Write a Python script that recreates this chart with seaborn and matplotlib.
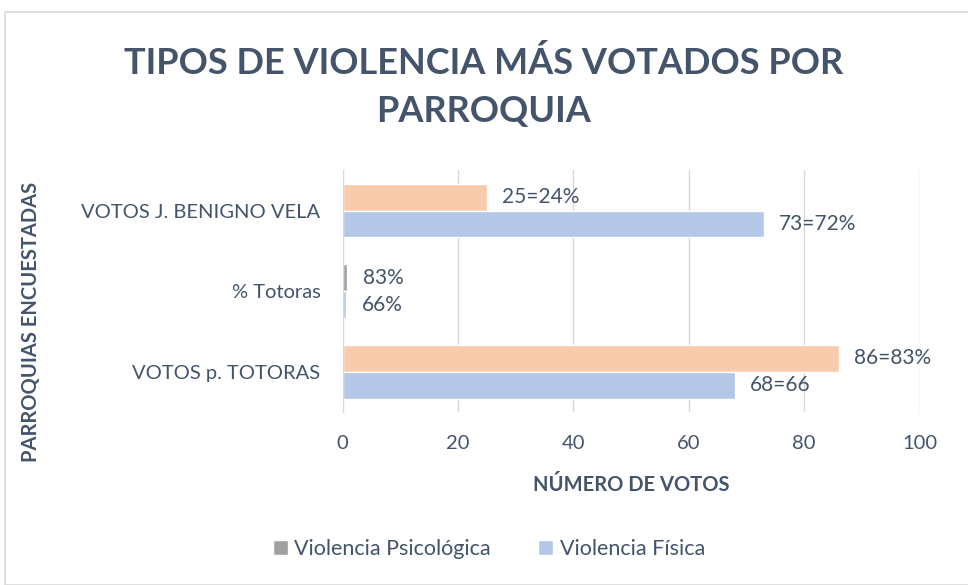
import matplotlib
matplotlib.use('Agg')
import matplotlib.pyplot as plt
import seaborn as sns
import pandas as pd
from matplotlib.patches import Patch, Rectangle

# 데이터
parroquias = ['VOTOS J. BENIGNO VELA', '% Totoras', 'VOTOS p. TOTORAS']
psicologica = [25, 0.83, 86]
fisica = [73, 0.66, 68]
etiquetas_psic = ['25=24%', '83%', '86=83%']
etiquetas_fis = ['73=72%', '66%', '68=66']
series = ['Violencia Psicológica', 'Violencia Física']

df = pd.DataFrame({
    'parroquia': parroquias * 2,
    'votos': psicologica + fisica,
    'tipo': [series[0]] * 3 + [series[1]] * 3,
})

texto = '#44546A'
naranja = '#F8CBAD'
azul = '#B4C7E7'
gris = '#A0A0A0'

sns.set_style('white')
plt.rcParams['font.family'] = ['Lato', 'DejaVu Sans']

fig = plt.figure(figsize=(9.68, 5.85), dpi=100)
ax = fig.add_axes([0.354, 0.296, 0.596, 0.413])

sns.barplot(data=df, y='parroquia', x='votos', hue='tipo', hue_order=series,
            order=parroquias, palette={series[0]: naranja, series[1]: azul},
            width=0.67, orient='h', ax=ax, legend=False, saturation=1)

# la barra de % Totoras (psicológica) va en gris
ax.containers[0].patches[1].set_facecolor(gris)

ax.bar_label(ax.containers[0], labels=etiquetas_psic, padding=11,
             fontsize=15, color=texto)
ax.bar_label(ax.containers[1], labels=etiquetas_fis, padding=11,
             fontsize=15, color=texto)

ax.set_xlim(0, 100)
ax.set_xticks(range(0, 101, 20))
ax.grid(axis='x', color='#D9D9D9', linewidth=1)
ax.set_axisbelow(True)
for s in ['top', 'right', 'bottom']:
    ax.spines[s].set_visible(False)
ax.spines['left'].set_color('#D9D9D9')
ax.tick_params(axis='both', length=0, labelsize=14.5, labelcolor=texto)
ax.tick_params(axis='x', pad=17)
ax.tick_params(axis='y', pad=16)

ax.set_xlabel('NÚMERO DE VOTOS', fontsize=14.5, fontweight='bold', color=texto, labelpad=16)
fig.text(0.032, 0.45, 'PARROQUIAS ENCUESTADAS', rotation=90, ha='center', va='center',
         fontsize=14.5, fontweight='bold', color=texto)
ax.set_ylabel('')

fig.text(0.5, 0.852, 'TIPOS DE VIOLENCIA MÁS VOTADOS POR\nPARROQUIA', ha='center', va='center',
         fontsize=26, fontweight='bold', color=texto, linespacing=1.55)

handles = [Patch(facecolor=gris), Patch(facecolor=azul)]
fig.legend(handles, series, loc='center', bbox_to_anchor=(0.505, 0.062), ncol=2,
           frameon=False, fontsize=15.5, labelcolor=texto, handlelength=0.7,
           handleheight=0.7, handletextpad=0.3, columnspacing=2.2)

fig.patches.append(Rectangle((5 / 968, 0), 1, 1 - 12 / 585, transform=fig.transFigure,
                             fill=False, edgecolor='#D9D9D9', linewidth=1.2))

fig.savefig('out.png', dpi=100)
